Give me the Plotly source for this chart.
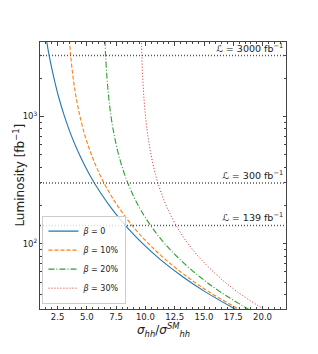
import math
import plotly.graph_objects as go

lumi = [4000, 3000, 2000, 1400, 1000, 700, 500, 350, 250, 180, 130, 100, 75, 55, 42, 30]
sig_b0 = [1.55, 1.78, 2.19, 2.61, 3.09, 3.69, 4.37, 5.22, 6.18, 7.28, 8.57, 9.77, 11.28, 13.18, 15.08, 17.84]
sig_b10 = [3.51, 3.62, 3.83, 4.09, 4.41, 4.85, 5.39, 6.10, 6.94, 7.94, 9.13, 10.27, 11.72, 13.55, 15.40, 18.12]
sig_b20 = [6.54, 6.60, 6.72, 6.87, 7.06, 7.35, 7.71, 8.22, 8.86, 9.66, 10.67, 11.65, 12.95, 14.63, 16.36, 18.94]
sig_b30 = [9.65, 9.69, 9.77, 9.87, 10.01, 10.21, 10.48, 10.86, 11.35, 11.99, 12.81, 13.64, 14.76, 16.26, 17.83, 20.22]
labels = ["<i>β</i> = 0", "<i>β</i> = 10%", "<i>β</i> = 20%", "<i>β</i> = 30%"]
ref_lumi = [3000, 300, 139]
ref_text = ["<i>ℒ</i> = 3000 fb<sup>−1</sup>", "<i>ℒ</i> = 300 fb<sup>−1</sup>", "<i>ℒ</i> = 139 fb<sup>−1</sup>"]
x_title = "<i>σ<sub>hh</sub></i>/<i>σ<sup>SM</sup><sub>hh</sub></i>"
y_title = "Luminosity [fb<sup>−1</sup>]"

colors = ["#1f77b4", "#ff7f0e", "#2ca02c", "#d62728"]
dashes = ["solid", "4px,2px", "6px,2px,1px,2px", "1px,2px"]
widths = [1.1, 1.1, 1.1, 1.0]

fig = go.Figure()
for sig, lab, c, d, w in zip([sig_b0, sig_b10, sig_b20, sig_b30], labels, colors, dashes, widths):
    fig.add_trace(go.Scatter(x=sig, y=lumi, mode="lines", name=lab,
                             line=dict(color=c, dash=d, width=w, shape="spline")))

for yv, t in zip(ref_lumi, ref_text):
    fig.add_shape(type="line", xref="paper", x0=0, x1=1, yref="y", y0=yv, y1=yv,
                  line=dict(color="#555555", dash="1px,2px", width=1.5))
    fig.add_annotation(xref="paper", x=0.995, yref="y", y=math.log10(yv), text=t, showarrow=False,
                       xanchor="right", yanchor="bottom", yshift=0,
                       font=dict(size=9.5, color="#222222"))

fig.add_annotation(xref="paper", yref="paper", x=0.5, y=-0.079, text=x_title, showarrow=False,
                   xanchor="center", yanchor="middle", font=dict(size=12, color="#222222"))
fig.add_annotation(xref="paper", yref="paper", x=-0.089, y=0.5, text=y_title, showarrow=False,
                   textangle=-90, xanchor="center", yanchor="middle", font=dict(size=12, color="#222222"))

axis_common = dict(showline=True, linecolor="#444444", linewidth=1, mirror="ticks",
                   ticks="inside", ticklen=3.5, tickcolor="#444444", showgrid=False,
                   zeroline=False, tickfont=dict(size=8.5, color="#222222"), automargin=False)

fig.update_xaxes(range=[1.0, 22.0], tickvals=[2.5, 5.0, 7.5, 10.0, 12.5, 15.0, 17.5, 20.0],
                 ticktext=["2.5", "5.0", "7.5", "10.0", "12.5", "15.0", "17.5", "20.0"],
                 minor=dict(dtick=0.5, ticks="inside", ticklen=2, tickcolor="#444444"),
                 **axis_common)
fig.update_yaxes(type="log", range=[1.487, 3.584], tickvals=[100, 1000],
                 ticktext=["10<sup>2</sup>", "10<sup>3</sup>"],
                 minor=dict(tickvals=[40, 50, 60, 70, 80, 90, 200, 300, 400, 500, 600, 700, 800, 900, 2000, 3000],
                            ticks="inside", ticklen=2, tickcolor="#444444"),
                 **axis_common)

fig.update_layout(width=310, height=346, margin=dict(l=32, r=32, t=34, b=45),
                  plot_bgcolor="white", paper_bgcolor="white",
                  font=dict(family="DejaVu Sans", size=9, color="#222222"),
                  legend=dict(x=0.01, y=0.02, xanchor="left", yanchor="bottom",
                              bgcolor="rgba(255,255,255,0.8)", bordercolor="#cccccc", borderwidth=1,
                              font=dict(size=8), tracegroupgap=0, itemwidth=30))

fig.write_html("out.html")
